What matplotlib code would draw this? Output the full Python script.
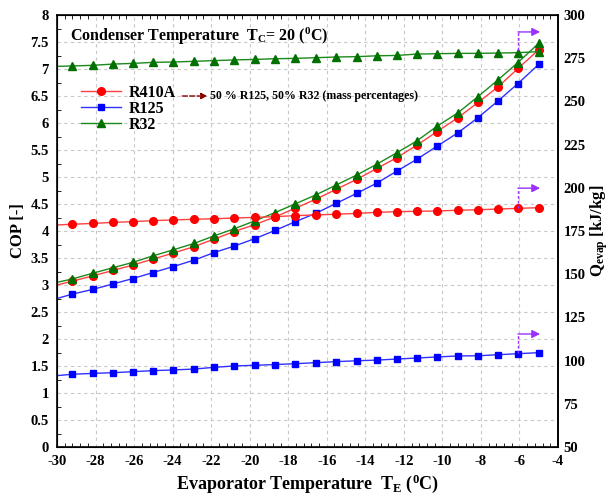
import matplotlib
matplotlib.use('Agg')
import matplotlib.pyplot as plt
from matplotlib.ticker import MultipleLocator, FormatStrFormatter

plt.rcParams['font.family'] = ['Liberation Serif', 'DejaVu Serif']
plt.rcParams['mathtext.fontset'] = 'custom'
plt.rcParams['mathtext.rm'] = 'Liberation Serif:bold'
plt.rcParams['mathtext.it'] = 'Liberation Serif:bold'
plt.rcParams['mathtext.bf'] = 'Liberation Serif:bold'
plt.rcParams['axes.unicode_minus'] = False

# evaporator temperature (first value = left edge, line only)
T_EVAP = [-30.0, -29.22, -28.13, -27.09, -26.06, -25.02, -23.98, -22.89, -21.85,
          -20.81, -19.72, -18.69, -17.65, -16.56, -15.52, -14.43, -13.39, -12.36,
          -11.32, -10.28, -9.19, -8.15, -7.11, -6.08, -4.99]

COP_R410A = [3.00, 3.07, 3.17, 3.27, 3.37, 3.48, 3.59, 3.71, 3.85, 3.99, 4.12, 4.26,
             4.42, 4.59, 4.77, 4.96, 5.16, 5.36, 5.59, 5.84, 6.10, 6.38, 6.67, 7.01, 7.36]
COP_R125 = [2.75, 2.83, 2.92, 3.02, 3.12, 3.23, 3.34, 3.46, 3.60, 3.72, 3.86, 4.01,
            4.17, 4.33, 4.51, 4.70, 4.89, 5.11, 5.33, 5.57, 5.82, 6.10, 6.41, 6.73, 7.09]
COP_R32 = [3.05, 3.11, 3.22, 3.32, 3.42, 3.54, 3.65, 3.77, 3.91, 4.04, 4.19, 4.34,
           4.50, 4.67, 4.85, 5.04, 5.24, 5.45, 5.67, 5.94, 6.19, 6.49, 6.80, 7.12, 7.48]

Q_R410A = [178.5, 178.9, 179.4, 180.0, 180.4, 181.0, 181.4, 181.8, 182.1, 182.5, 182.9,
           183.3, 183.9, 184.3, 184.7, 185.2, 185.8, 186.2, 186.4, 186.6, 187.0, 187.3,
           187.7, 188.1, 188.5]
Q_R125 = [91.3, 92.1, 92.6, 93.0, 93.6, 94.2, 94.6, 95.1, 96.1, 96.9, 97.3, 97.7, 98.2,
          98.8, 99.4, 99.9, 100.3, 100.9, 101.5, 102.1, 102.7, 102.8, 103.4, 104.0, 104.6]
Q_R32 = [270.3, 270.5, 270.9, 271.6, 272.0, 272.6, 272.8, 273.2, 273.6, 274.0, 274.3,
         274.7, 274.9, 275.3, 275.7, 275.9, 276.4, 276.6, 277.4, 277.6, 277.8, 277.8,
         278.0, 278.2, 278.8]

# purple arrows: start/top of the dashed riser on the Q axis at T = -6
ARROW_Q = [(279.8, 290.2), (188.3, 199.8), (104.4, 115.4)]
ARROW_T = -6.08

fig = plt.figure(figsize=(6.11, 4.97), dpi=100)
ax = fig.add_axes([0.0933, 0.1006, 0.8200, 0.8692])
ax2 = ax.twinx()

mk = list(range(1, len(T_EVAP)))
ax.plot(T_EVAP, COP_R410A, '-', color='#ff4040', lw=1, marker='o', ms=5.5,
        mfc='#ff0000', mec='#ff0000', markevery=mk, label='R410A')
ax.plot(T_EVAP, COP_R125, '-', color='#3030ff', lw=1, marker='s', ms=5,
        mfc='#0000ff', mec='#0000ff', markevery=mk, label='R125')
ax.plot(T_EVAP, COP_R32, '-', color='#1a8a1a', lw=1, marker='^', ms=6,
        mfc='#007000', mec='#007000', markevery=mk, label='R32')

ax2.plot(T_EVAP, Q_R410A, '-', color='#ff4040', lw=1, marker='o', ms=5.5,
         mfc='#ff0000', mec='#ff0000', markevery=mk)
ax2.plot(T_EVAP, Q_R125, '-', color='#3030ff', lw=1, marker='s', ms=5,
         mfc='#0000ff', mec='#0000ff', markevery=mk)
ax2.plot(T_EVAP, Q_R32, '-', color='#1a8a1a', lw=1, marker='^', ms=6,
         mfc='#007000', mec='#007000', markevery=mk)

for q0, q1 in ARROW_Q:
    ax2.plot([ARROW_T, ARROW_T], [q0, q1], '--', color='#9a30ff', lw=1, dashes=(2, 1.5))
    ax2.annotate('', xy=(-4.93, q1), xytext=(ARROW_T, q1),
                 arrowprops=dict(arrowstyle='-|>', color='#9a30ff', lw=1,
                                 mutation_scale=12, shrinkA=0, shrinkB=0))

ax.set_xlim(-30, -4)
ax.set_ylim(0, 8)
ax2.set_ylim(50, 300)
ax.xaxis.set_major_locator(MultipleLocator(2))
ax.xaxis.set_minor_locator(MultipleLocator(0.4))
ax.yaxis.set_major_locator(MultipleLocator(0.5))
ax.yaxis.set_minor_locator(MultipleLocator(0.25))
ax.yaxis.set_major_formatter(FormatStrFormatter('%g'))
ax2.yaxis.set_major_locator(MultipleLocator(25))

ax.grid(True, which='major', color='#c8c8c8', ls='--', lw=0.8, dashes=(3, 3))
ax.tick_params(axis='both', which='major', length=0, labelsize=10.5, pad=6)
ax.tick_params(axis='x', which='minor', direction='in', length=3, top=True)
ax.tick_params(axis='y', which='minor', direction='in', length=3)
ax2.tick_params(axis='y', length=0, labelsize=10.5, pad=4)
for lab in ax.get_xticklabels() + ax.get_yticklabels() + ax2.get_yticklabels():
    lab.set_fontweight('bold')
for sp in ax.spines.values():
    sp.set_linewidth(1.2)
ax2.spines['right'].set_linewidth(1.2)

ax.set_xlabel('Evaporator Temperature  T$_E$ ($^0$C)', fontsize=13, fontweight='bold', labelpad=3)
ax.set_ylabel('COP [-]', fontsize=12, fontweight='bold', labelpad=3)
ax2.set_ylabel('Q$_{evap}$ [kJ/kg]', fontsize=12, fontweight='bold', labelpad=2)

ax.text(0.025, 0.975, 'Condenser Temperature  T$_C$= 20 ($^0$C)', transform=ax.transAxes,
        fontsize=11.5, fontweight='bold', va='top', ha='left')

leg = ax.legend(loc='upper left', bbox_to_anchor=(0.025, 0.865), frameon=False,
                handlelength=2.5, labelspacing=0.0, handletextpad=0.5,
                borderaxespad=0.3, prop={'weight': 'bold', 'size': 11.5})

ax.annotate('', xy=(-22.2, 6.5), xytext=(-23.5, 6.5),
            arrowprops=dict(arrowstyle='-|>', color='#8b0000', lw=1, ls='--',
                            mutation_scale=9, shrinkA=0, shrinkB=0))
ax.text(-22.05, 6.5, '50 % R125, 50% R32 (mass percentages)', fontsize=8.6,
        fontweight='bold', va='center', ha='left')

plt.savefig('out.png', dpi=100)
